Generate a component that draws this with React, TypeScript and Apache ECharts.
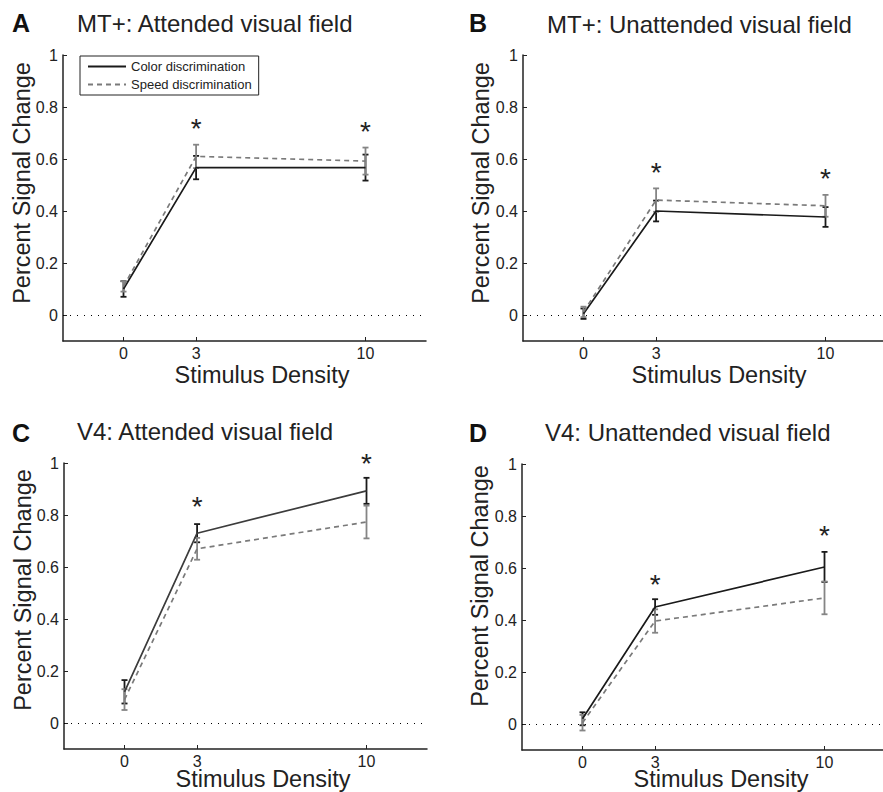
import React, { useEffect, useRef } from "react";
import * as echarts from "echarts";

// ---------- data ----------
const densities = [0, 3, 10];
const yTicks = [0, 0.2, 0.4, 0.6, 0.8, 1];
const seriesNames = ["Color discrimination", "Speed discrimination"];
const panelLetters = ["A", "B", "C", "D"];
const panelTitles = [
  "MT+: Attended visual field",
  "MT+: Unattended visual field",
  "V4: Attended visual field",
  "V4: Unattended visual field",
];
const xAxisTitle = "Stimulus Density";
const yAxisTitle = "Percent Signal Change";

// Panel A: MT+ attended
const colorA = [0.1, 0.567, 0.567];
const colorAErr = [0.03, 0.045, 0.05];
const speedA = [0.11, 0.61, 0.592];
const speedAErr = [0.02, 0.045, 0.052];
const starsA = [[3, 0.74], [10, 0.73]];

// Panel B: MT+ unattended
const colorB = [0.005, 0.4, 0.377];
const colorBErr = [0.02, 0.04, 0.038];
const speedB = [0.012, 0.442, 0.42];
const speedBErr = [0.02, 0.045, 0.042];
const starsB = [[3, 0.57], [10, 0.55]];

// Panel C: V4 attended
const colorC = [0.12, 0.73, 0.893];
const colorCErr = [0.045, 0.035, 0.05];
const speedC = [0.09, 0.67, 0.773];
const speedCErr = [0.04, 0.042, 0.063];
const starsC = [[3, 0.855], [10, 1.02]];

// Panel D: V4 unattended
const colorD = [0.02, 0.45, 0.604];
const colorDErr = [0.025, 0.03, 0.058];
const speedD = [0.005, 0.396, 0.485];
const speedDErr = [0.03, 0.045, 0.063];
const starsD = [[3, 0.56], [10, 0.75]];

// ---------- layout / style ----------
const FONT = "'Liberation Sans', Arial, Helvetica, sans-serif";
const TXT = "#222";
const layouts = [
  { left: 63, top: 55, width: 363, height: 286 },
  { left: 523, top: 55, width: 363, height: 286 },
  { left: 64, top: 463, width: 363, height: 286 },
  { left: 522, top: 464, width: 363, height: 286 },
];
const letterPos = [[21, 23], [478, 23], [21, 433], [478, 433]];
const titlePos = [[77, 23], [547, 24], [77, 431], [545, 432]];
const xNamePos = [[262, 375], [719, 375], [263, 779], [721, 779]];
const yNamePos = [[22, 183], [481, 183], [23, 590], [480, 586]];
const colorLineColors = ["#1a1a1a", "#1a1a1a", "#3c3c3c", "#1a1a1a"];
const SPEED_COLOR = "#7a7a7a";
const SPEED_BAR = "#858585";

const panels = [
  { color: colorA, colorErr: colorAErr, speed: speedA, speedErr: speedAErr, stars: starsA },
  { color: colorB, colorErr: colorBErr, speed: speedB, speedErr: speedBErr, stars: starsB },
  { color: colorC, colorErr: colorCErr, speed: speedC, speedErr: speedCErr, stars: starsC },
  { color: colorD, colorErr: colorDErr, speed: speedD, speedErr: speedDErr, stars: starsD },
];

function errorBarRender(color: string) {
  return (params: any, api: any) => {
    const x = api.value(0);
    const y = api.value(1);
    const e = api.value(2);
    const top = api.coord([x, y + e]);
    const bot = api.coord([x, y - e]);
    const hw = 3;
    const style = { stroke: color, lineWidth: 1.8 };
    return {
      type: "group",
      children: [
        { type: "line", shape: { x1: top[0], y1: top[1], x2: bot[0], y2: bot[1] }, style },
        { type: "line", shape: { x1: top[0] - hw, y1: top[1], x2: top[0] + hw, y2: top[1] }, style },
        { type: "line", shape: { x1: bot[0] - hw, y1: bot[1], x2: bot[0] + hw, y2: bot[1] }, style },
      ],
    };
  };
}

function starRender(params: any, api: any) {
  const p = api.coord([api.value(0), api.value(1)]);
  return {
    type: "text",
    x: p[0],
    y: p[1] + 6,
    style: {
      text: "*",
      fontSize: 28,
      fontFamily: FONT,
      fill: TXT,
      align: "center",
      verticalAlign: "middle",
    },
  };
}

export default function App() {
  const ref = useRef<HTMLDivElement>(null);

  useEffect(() => {
    if (!ref.current) return;
    const chart = echarts.init(ref.current, undefined, { renderer: "svg" });

    const grid = layouts.map((l) => ({ ...l, outerBoundsMode: "none" }));

    const xAxis = layouts.map((_, i) => ({
      type: "value",
      gridIndex: i,
      min: -2.5,
      max: 12.5,
      axisLine: { show: true, onZero: false, lineStyle: { color: TXT, width: 1.5 } },
      axisTick: { show: true, inside: true, length: 4, customValues: densities, lineStyle: { color: TXT, width: 1 } },
      axisLabel: { show: true, customValues: densities, fontSize: 16, color: TXT, margin: 4, fontFamily: FONT },
      splitLine: { show: false },
    }));

    const yAxis = layouts.map((_, i) => ({
      type: "value",
      gridIndex: i,
      min: -0.1,
      max: 1,
      axisLine: { show: true, onZero: false, lineStyle: { color: TXT, width: 1.5 } },
      axisTick: { show: true, inside: true, length: 4, customValues: yTicks, lineStyle: { color: TXT, width: 1 } },
      axisLabel: {
        show: true,
        customValues: yTicks,
        fontSize: 16,
        color: TXT,
        margin: 5,
        fontFamily: FONT,
        formatter: (v: number) => String(Math.round(v * 10) / 10),
      },
      splitLine: { show: false },
    }));

    const series: any[] = [];
    panels.forEach((p, i) => {
      series.push({
        type: "custom",
        xAxisIndex: i,
        yAxisIndex: i,
        renderItem: errorBarRender("#1a1a1a"),
        encode: { x: 0, y: 1 },
        data: densities.map((d, k) => [d, p.color[k], p.colorErr[k]]),
        z: 2,
        silent: true,
      });
      series.push({
        type: "custom",
        xAxisIndex: i,
        yAxisIndex: i,
        renderItem: errorBarRender(SPEED_BAR),
        encode: { x: 0, y: 1 },
        data: densities.map((d, k) => [d, p.speed[k], p.speedErr[k]]),
        z: 2,
        silent: true,
      });
      series.push({
        name: seriesNames[0],
        type: "line",
        xAxisIndex: i,
        yAxisIndex: i,
        symbol: "none",
        showSymbol: false,
        data: densities.map((d, k) => [d, p.color[k]]),
        lineStyle: { color: colorLineColors[i], width: 1.7, type: "solid" },
        itemStyle: { color: colorLineColors[i] },
        z: 3,
        markLine: {
          silent: true,
          symbol: ["none", "none"],
          label: { show: false },
          lineStyle: { type: [1, 6], color: "#000", width: 1 },
          data: [{ yAxis: 0 }],
        },
      });
      series.push({
        name: seriesNames[1],
        type: "line",
        xAxisIndex: i,
        yAxisIndex: i,
        symbol: "none",
        showSymbol: false,
        data: densities.map((d, k) => [d, p.speed[k]]),
        lineStyle: { color: SPEED_COLOR, width: 1.7, type: [5, 4] },
        itemStyle: { color: SPEED_COLOR },
        z: 3,
      });
      series.push({
        type: "custom",
        xAxisIndex: i,
        yAxisIndex: i,
        renderItem: starRender,
        encode: { x: 0, y: 1 },
        data: p.stars,
        z: 4,
        silent: true,
      });
    });

    const graphic: any[] = [];
    panelLetters.forEach((L, i) => {
      graphic.push({
        type: "text",
        x: letterPos[i][0],
        y: letterPos[i][1],
        style: { text: L, fontSize: 25, fontWeight: "bold", fontFamily: FONT, fill: "#111", align: "center", verticalAlign: "middle" },
      });
      graphic.push({
        type: "text",
        x: titlePos[i][0],
        y: titlePos[i][1],
        style: { text: panelTitles[i], fontSize: 24, fontFamily: FONT, fill: TXT, align: "left", verticalAlign: "middle" },
      });
      graphic.push({
        type: "text",
        x: xNamePos[i][0],
        y: xNamePos[i][1],
        style: { text: xAxisTitle, fontSize: 23.5, fontFamily: FONT, fill: TXT, align: "center", verticalAlign: "middle" },
      });
      graphic.push({
        type: "text",
        x: yNamePos[i][0],
        y: yNamePos[i][1],
        rotation: Math.PI / 2,
        style: { text: yAxisTitle, fontSize: 23.5, fontFamily: FONT, fill: TXT, align: "center", verticalAlign: "middle" },
      });
    });

    chart.setOption({
      animation: false,
      backgroundColor: "#fff",
      grid,
      xAxis,
      yAxis,
      legend: {
        show: true,
        data: seriesNames,
        left: 80,
        top: 56,
        orient: "vertical",
        itemWidth: 38,
        itemHeight: 12,
        itemGap: 5,
        padding: [4, 7],
        borderColor: TXT,
        borderWidth: 1,
        borderRadius: 0,
        backgroundColor: "#fff",
        selectedMode: false,
        itemStyle: { opacity: 0 },
        textStyle: { fontSize: 13, color: TXT, fontFamily: FONT },
      },
      graphic,
      series,
    });

    return () => chart.dispose();
  }, []);

  return (
    <div
      ref={ref}
      style={{ position: "absolute", left: 0, top: 0, width: 883, height: 792, background: "#fff" }}
    />
  );
}
